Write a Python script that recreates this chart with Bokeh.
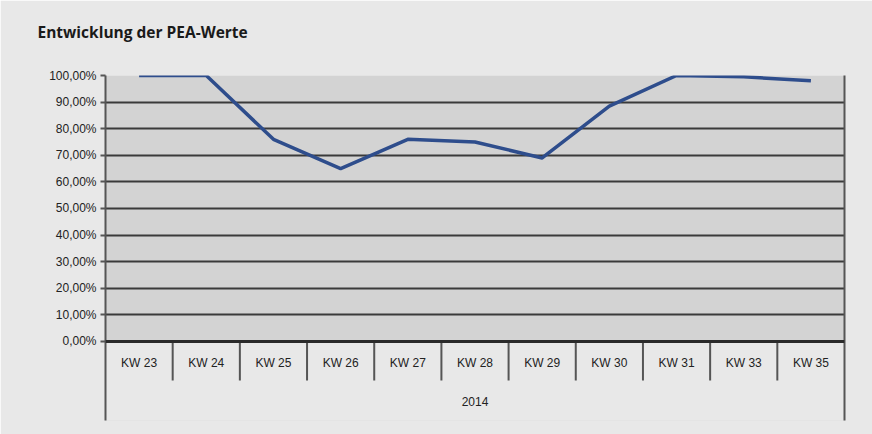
from bokeh.plotting import figure
from bokeh.models import FixedTicker, LinearAxis, Range1d, Span, Title
from bokeh.core.properties import value
from bokeh.embed import file_html
from bokeh.resources import INLINE

# ---- data ----
categories = ["KW 23", "KW 24", "KW 25", "KW 26", "KW 27", "KW 28",
              "KW 29", "KW 30", "KW 31", "KW 33", "KW 35"]
pea_values = [100.0, 100.0, 76.0, 65.0, 76.0, 75.0, 69.0, 88.5, 100.0, 99.5, 98.0]
year_label = "2014"
y_ticks = [0, 10, 20, 30, 40, 50, 60, 70, 80, 90, 100]
y_tick_labels = ["0,00%", "10,00%", "20,00%", "30,00%", "40,00%", "50,00%",
                 "60,00%", "70,00%", "80,00%", "90,00%", "100,00%"]
title_text = "Entwicklung der PEA-Werte"

# ---- style ----
PAGE = "#e8e8e8"
AREA = "#d3d3d3"
GRID = "#3a3a3a"
AXIS = "#555555"
LINE = "#2e4d8c"
TEXT = "#222222"
FONT = "Liberation Sans"

n = len(categories)
y_bottom = -29.7
xs = [i + 0.5 for i in range(n)]

p = figure(width=872, height=434, output_backend="svg", toolbar_location=None,
           x_range=Range1d(0, n), y_range=Range1d(y_bottom, 100),
           x_axis_location=None,
           min_border_left=105, min_border_right=28,
           min_border_top=75, min_border_bottom=14)
p.background_fill_color = AREA
p.border_fill_color = PAGE
p.outline_line_color = None

# spacer between frame and title (pushes the title upward)
p.add_layout(Title(text=" ", text_font_size="1px", standoff=30), "above")

# title
p.title.text = title_text
p.title.align = "left"
p.title.offset = -68
p.title.standoff = 0
p.title.text_font = "Open Sans"
p.title.text_font_style = "bold"
p.title.text_font_size = "15.5px"
p.title.text_color = "#1a1a1a"

# area below 0 in page colour (category label zone)
p.quad(left=[0], right=[n], bottom=[y_bottom], top=[0],
       fill_color=PAGE, line_color=None, level="image")

# grid
p.xgrid.visible = False
p.ygrid.ticker = FixedTicker(ticks=y_ticks)
p.ygrid.grid_line_color = GRID
p.ygrid.grid_line_width = 2

# y axis
ya = p.yaxis[0]
ya.ticker = FixedTicker(ticks=y_ticks)
ya.major_label_overrides = {t: l for t, l in zip(y_ticks, y_tick_labels)}
ya.minor_tick_line_color = None
ya.major_tick_out = 5
ya.major_tick_in = 0
ya.major_tick_line_color = AXIS
ya.major_tick_line_width = 2
ya.axis_line_color = AXIS
ya.axis_line_width = 2
ya.major_label_text_font = FONT
ya.major_label_text_font_size = "12px"
ya.major_label_text_color = TEXT
ya.major_label_standoff = 4

# right border line
ra = LinearAxis(ticker=FixedTicker(ticks=[]), axis_line_color=AXIS, axis_line_width=2,
                major_tick_line_color=None, minor_tick_line_color=None,
                major_label_text_font_size="0px")
p.add_layout(ra, "right")

# baseline
p.add_layout(Span(location=0, dimension="width", line_color="#2a2a2a", line_width=3))

# category dividers
div_x = list(range(1, n))
p.segment(x0=div_x, y0=[0] * len(div_x), x1=div_x, y1=[-14.7] * len(div_x),
          line_color=AXIS, line_width=2)

# category labels
p.text(x=xs, y=[-7.9] * n, text=categories, text_align="center", text_baseline="middle",
       text_font=value(FONT), text_font_size="12px", text_color=TEXT)
p.text(x=[n / 2], y=[-22.6], text=[year_label], text_align="center", text_baseline="middle",
       text_font=value(FONT), text_font_size="12px", text_color=TEXT)

# data line
p.line(x=xs, y=pea_values, line_color=LINE, line_width=3.5, line_join="round")

open("out.html", "w").write(file_html(p, INLINE))
